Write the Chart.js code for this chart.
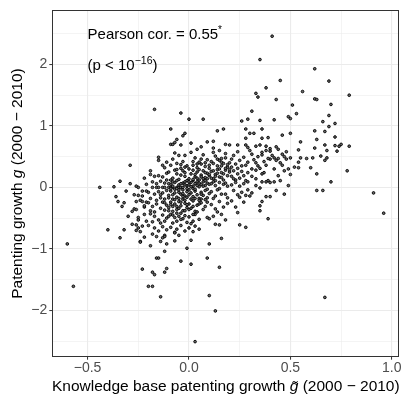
<!DOCTYPE html>
<html><head><meta charset="utf-8">
<script src="https://cdn.jsdelivr.net/npm/chart.js@4.4.1/dist/chart.umd.min.js"></script>
<style>html,body{margin:0;padding:0;background:#fff}#wrap{width:404px;height:395px}</style>
</head><body><div id="wrap"><canvas id="c" width="404" height="395"></canvas></div>
<script>
// ---- axis setup ----
const xMajorTicks = [-0.5, 0, 0.5, 1];
const xMinorTicks = [-0.25, 0.25, 0.75];
const yMajorTicks = [-2, -1, 0, 1, 2];
const yMinorTicks = [-2.5, -1.5, -0.5, 0.5, 1.5, 2.5];
const xTickLabels = ['\u22120.5', '0.0', '0.5', '1.0'];
const yTickLabels = ['\u22122', '\u22121', '0', '1', '2'];
const xRange = [-0.674, 1.037];
const yRange = [-2.755, 2.88];

// ---- data: [knowledge base growth g~, patenting growth g] ----
const upperRight = [
[0.41,2.46],[0.35,2.08],[0.62,1.93],[0.45,1.74],[0.69,1.73],[0.38,1.62],[0.56,1.56],[0.33,1.53],[0.34,1.47],[0.43,1.43],
[0.62,1.44],[0.63,1.43],[0.79,1.50],[0.51,1.34],[0.70,1.35],[0.31,1.24],[0.53,1.20],[0.69,1.17],[0.49,1.15],[0.50,1.12],
[0.29,1.11],[0.26,1.08],[0.35,1.09],[0.42,1.10],[0.66,1.07],[0.72,1.04],[0.69,0.99],[0.62,0.92],[0.67,0.91],[0.28,0.95],
[0.36,0.95],[0.30,0.88],[0.32,0.88],[0.46,0.85],[0.50,0.88],[0.39,0.81],[0.36,0.80],[0.28,0.80],[0.55,0.74],[0.63,0.78],
[0.72,0.82],[0.72,0.68],[0.79,0.67],[0.75,0.70],[0.74,0.67],[0.67,0.69],[0.62,0.64],[0.68,0.60],[0.73,0.59],[0.61,0.48],
[0.65,0.51],[0.68,0.48],[0.67,0.44],[0.78,0.27],[0.70,0.09],[0.63,0.22],[0.63,-0.05],[0.66,-0.05],[0.91,-0.09],[0.96,-0.42],
[0.67,-1.79],[0.54,0.41],[0.52,0.33],[0.54,0.32],[0.49,0.03],[0.47,-0.11],[0.43,-0.05]
];
const midRight = [
[0.50,0.48],[0.48,0.46],[0.46,0.54],[0.48,0.58],[0.44,0.62],[0.43,0.66],[0.40,0.46],[0.42,0.48],[0.44,0.47],[0.47,0.50],
[0.40,0.63],[0.40,0.59],[0.38,0.67],[0.38,0.60],[0.36,0.57],[0.36,0.53],[0.35,0.69],[0.33,0.67],[0.31,0.54],[0.34,0.35],
[0.33,0.28],[0.35,0.31],[0.37,0.24],[0.39,0.11],[0.40,0.08],[0.36,0.09],[0.38,0.09],[0.42,0.09],[0.45,0.11],[0.40,-0.15],
[0.38,-0.15],[0.36,-0.23],[0.35,-0.30],[0.35,-0.38],[0.39,-0.51],[0.32,0.45],[0.33,0.40],[0.31,0.30],[0.34,0.50],[0.37,0.42],
[0.39,0.47],[0.41,0.52],[0.43,0.44],[0.45,0.40],[0.46,0.36],[0.38,0.36],[0.42,0.30],[0.31,0.18],[0.33,0.14],[0.36,0.22],
[0.44,0.19],[0.47,0.27],[0.50,0.21],[0.33,0.03],[0.35,-0.01],[0.60,0.32],[0.49,0.30],[0.55,0.48],[0.58,0.47],[0.54,0.61]
];
const tails = [
[-0.60,-0.92],[-0.57,-1.61],[-0.17,1.27],[-0.04,1.21],[0.00,1.11],[0.07,1.11],[-0.23,-1.33],[-0.20,-1.61],[-0.18,-1.61],[-0.18,-1.38],
[-0.17,-1.42],[-0.16,-1.15],[-0.15,-1.15],[-0.14,-1.78],[-0.12,-1.04],[-0.12,-1.38],[-0.11,-1.32],[-0.04,-1.20],[-0.01,-0.99],[0.01,-1.25],
[0.09,-1.15],[0.10,-1.76],[0.13,-2.01],[0.15,-1.30],[0.03,-2.51],[0.10,-0.92],[0.01,-0.86],[0.16,-0.83]
];
const leftEdge = [
[-0.44,0.00],[-0.37,0.01],[-0.34,0.10],[-0.29,0.06],[-0.29,0.36],[-0.36,-0.15],[-0.35,-0.23],[-0.32,-0.25],[-0.33,-0.31],[-0.30,-0.47],
[-0.34,-0.82],[-0.32,-0.69],[-0.40,-0.69],[-0.31,-0.06],[-0.27,-0.12],[-0.26,0.02],[-0.27,-0.35],[-0.26,-0.36],[-0.26,-0.23],[-0.28,-0.60],
[-0.26,-0.61],[-0.25,-0.66],[-0.26,-0.70],[-0.24,-0.88],[-0.24,-0.89],[-0.22,-0.81],[-0.23,-0.63],[-0.28,-0.39],[-0.25,-0.13],[-0.23,-0.06],
[-0.25,-0.49],[-0.25,-0.53],[-0.24,-0.72],[-0.25,0.00],[-0.24,-0.21],[-0.23,-0.23],[-0.22,-0.32],[-0.22,-0.44],[-0.21,-0.24],[-0.23,-0.14],
[-0.21,-0.06],[-0.21,-0.55],[-0.22,-0.30],[-0.21,0.05]
];
const coreA = [
[-0.15,0.49],[-0.15,0.44],[-0.19,0.27],[-0.12,0.32],[-0.11,0.41],[-0.13,0.36],
[-0.22,0.15],[-0.17,0.18],[-0.15,0.19],[-0.13,0.17],[-0.18,0.09],[-0.16,0.06],[-0.14,0.10],[-0.12,0.07],[-0.19,0.21],[-0.11,0.23],
[-0.18,0.00],[-0.16,0.00],[-0.15,0.00],[-0.13,0.00],[-0.12,0.00],[-0.10,0.00],[-0.09,0.00],[-0.08,0.00],[-0.06,0.00],[-0.05,0.00],[-0.04,0.00],[-0.03,0.00],
[-0.20,-0.08],[-0.17,-0.11],[-0.15,-0.07],[-0.13,-0.09],[-0.11,-0.05],[-0.19,-0.18],[-0.16,-0.21],[-0.14,-0.17],[-0.12,-0.19],[-0.10,-0.13],
[-0.20,-0.25],[-0.18,-0.31],[-0.16,-0.27],[-0.14,-0.34],[-0.13,-0.24],[-0.11,-0.29],[-0.19,-0.38],[-0.17,-0.40],[-0.12,-0.37],[-0.10,-0.33],
[-0.19,-0.43],[-0.17,-0.47],[-0.15,-0.53],[-0.13,-0.45],[-0.11,-0.50],[-0.18,-0.56],[-0.14,-0.58],[-0.12,-0.55],[-0.10,-0.47],
[-0.20,-0.62],[-0.17,-0.66],[-0.15,-0.71],[-0.13,-0.64],[-0.11,-0.69],[-0.18,-0.76],[-0.12,-0.78],[-0.16,-0.80],
[-0.19,-0.95],[-0.12,-0.80],[-0.13,-0.82],[-0.14,-0.88],[-0.11,-0.92]
];
const coreB = [
[-0.09,0.95],[-0.03,0.84],[-0.02,0.88],[-0.09,0.70],[-0.08,0.70],[-0.04,0.69],[-0.07,0.73],[-0.06,0.78],
[-0.08,0.46],[-0.05,0.52],[-0.02,0.52],[-0.09,0.36],[-0.06,0.39],[-0.03,0.42],[-0.01,0.35],[-0.07,0.56],[-0.04,0.31],
[-0.10,0.25],[-0.08,0.15],[-0.06,0.22],[-0.05,0.13],[-0.03,0.27],[-0.02,0.18],[-0.01,0.11],[-0.09,0.12],[-0.07,0.28],[-0.04,0.20],[-0.02,0.24],
[-0.09,0.05],[-0.07,0.08],[-0.05,0.04],[-0.03,0.07],[-0.01,0.03],[-0.08,0.02],[-0.02,0.09],
[-0.09,-0.06],[-0.08,-0.12],[-0.07,-0.03],[-0.06,-0.16],[-0.05,-0.08],[-0.04,-0.11],[-0.03,-0.04],[-0.02,-0.14],[-0.01,-0.07],[-0.08,-0.19],[-0.05,-0.18],[-0.03,-0.19],[-0.01,-0.16],[-0.06,-0.02],
[-0.09,-0.24],[-0.08,-0.31],[-0.07,-0.27],[-0.06,-0.36],[-0.05,-0.23],[-0.04,-0.30],[-0.03,-0.38],[-0.02,-0.26],[-0.01,-0.33],[-0.08,-0.39],[-0.05,-0.34],[-0.02,-0.21],
[-0.09,-0.44],[-0.07,-0.49],[-0.06,-0.55],[-0.04,-0.42],[-0.03,-0.51],[-0.02,-0.46],[-0.01,-0.57],[-0.08,-0.58],[-0.05,-0.47],
[-0.09,-0.65],[-0.07,-0.73],[-0.06,-0.68],[-0.04,-0.62],[-0.02,-0.71],[-0.07,-0.74],[-0.05,-0.78],[-0.07,-0.87]
];
const coreC = [
[0.01,0.72],[0.06,0.66],[0.09,0.74],[0.04,0.62],
[0.01,0.57],[0.03,0.48],[0.05,0.41],[0.07,0.53],[0.09,0.45],[0.02,0.36],[0.04,0.32],[0.06,0.38],[0.08,0.34],[0.10,0.31],
[0.00,0.14],[0.01,0.22],[0.02,0.28],[0.03,0.17],[0.04,0.25],[0.05,0.12],[0.06,0.20],[0.07,0.27],[0.08,0.16],[0.09,0.23],[0.10,0.19],[0.02,0.11],[0.05,0.29],[0.07,0.14],[0.08,0.24],[0.03,0.21],
[0.00,0.04],[0.01,0.08],[0.02,0.02],[0.03,0.06],[0.04,0.09],[0.05,0.01],[0.06,0.05],[0.07,0.09],[0.08,0.03],[0.09,0.07],[0.10,0.05],[0.04,0.03],
[0.00,-0.04],[0.01,-0.09],[0.02,-0.15],[0.03,-0.06],[0.04,-0.12],[0.05,-0.18],[0.06,-0.08],[0.07,-0.13],[0.08,-0.05],[0.09,-0.17],[0.10,-0.10],[0.02,-0.02],[0.06,-0.19],[0.01,-0.19],
[0.00,-0.27],[0.01,-0.34],[0.02,-0.22],[0.03,-0.39],[0.04,-0.29],[0.06,-0.25],[0.07,-0.36],[0.08,-0.31],[0.05,-0.21],[0.09,-0.24],
[0.00,-0.48],[0.02,-0.55],[0.03,-0.44],[0.05,-0.52],[0.09,-0.49],[0.10,-0.51],[0.01,-0.59],
[0.00,-0.66],[0.02,-0.72],[0.03,-0.63],[0.05,-0.68]
];
const coreD = [
[0.12,0.75],[0.12,0.64],[0.15,0.60],[0.14,0.92],[0.17,0.95],[0.18,0.70],
[0.11,0.42],[0.13,0.51],[0.14,0.35],[0.16,0.47],[0.17,0.39],[0.18,0.55],[0.19,0.33],[0.12,0.57],[0.15,0.44],[0.20,0.40],
[0.11,0.26],[0.12,0.14],[0.13,0.21],[0.14,0.29],[0.15,0.17],[0.16,0.24],[0.17,0.12],[0.18,0.28],[0.19,0.19],[0.20,0.25],[0.13,0.11],[0.16,0.16],
[0.11,0.06],[0.13,0.03],[0.15,0.08],[0.17,0.05],[0.19,0.02],[0.12,0.09],[0.18,0.07],
[0.11,-0.07],[0.13,-0.14],[0.14,-0.04],[0.16,-0.11],[0.18,-0.11],[0.19,-0.17],[0.12,-0.18],[0.15,-0.02],
[0.11,-0.28],[0.13,-0.35],[0.15,-0.23],[0.17,-0.32],[0.19,-0.26],[0.14,-0.40],
[0.12,-0.47],[0.13,-0.60],[0.15,-0.61],[0.16,-0.44],[0.18,-0.53]
];
const coreE = [
[0.24,0.58],[0.20,0.69],[0.24,0.69],[0.28,0.69],[0.29,0.65],[0.30,0.60],
[0.21,0.46],[0.22,0.52],[0.23,0.38],[0.25,0.44],[0.26,0.35],[0.27,0.49],[0.29,0.41],[0.21,0.33],[0.24,0.31],[0.28,0.36],
[0.21,0.18],[0.22,0.27],[0.23,0.12],[0.24,0.22],[0.25,0.15],[0.26,0.26],[0.27,0.19],[0.28,0.11],[0.29,0.24],[0.22,0.14],
[0.21,0.04],[0.23,0.08],[0.25,0.02],[0.27,0.06],[0.29,0.09],
[0.22,-0.05],[0.24,-0.12],[0.26,-0.08],[0.28,-0.13],[0.30,-0.14],[0.29,-0.04],[0.31,-0.09],[0.25,-0.16],[0.27,-0.24],
[0.23,-0.32],[0.24,-0.41],[0.21,-0.22],
[0.25,-0.61],[0.28,-0.65]
];
const coreDense = [
[-0.11,0.12],[-0.10,0.06],[-0.09,-0.02],[-0.08,0.09],[-0.07,-0.09],[-0.06,0.11],[-0.05,-0.04],[-0.04,0.06],[-0.03,-0.10],[-0.02,0.04],
[-0.01,-0.02],[0.00,0.09],[0.01,0.01],[0.02,0.13],[0.03,-0.03],[0.04,0.15],[0.05,0.07],[0.06,0.17],[0.07,0.02],[0.08,0.11],
[0.09,0.14],[0.10,0.21],[0.11,0.15],[0.12,0.27],[0.13,0.18],[0.14,0.23],[0.15,0.30],[0.16,0.35],[0.17,0.22],[0.18,0.31],
[0.19,0.37],[0.20,0.29],[-0.10,-0.17],[-0.09,-0.28],[-0.07,-0.20],[-0.06,-0.31],[-0.04,-0.24],[-0.03,-0.15],[-0.01,-0.28],[0.00,-0.12],
[0.02,-0.31],[0.03,-0.18],[0.05,-0.27],[0.06,-0.11],[0.08,-0.20],[0.09,-0.03],[-0.06,0.29],[-0.04,0.37],[-0.02,0.33],[0.00,0.30],
[0.02,0.42],[0.04,0.38],[0.06,0.46],[0.08,0.40],[0.10,0.36],[0.12,0.39],[0.14,0.46],[0.16,0.41],[0.18,0.48],[-0.14,-0.12],
[-0.12,-0.25],[-0.10,-0.38],[-0.08,-0.45],[-0.06,-0.42],[-0.04,-0.52],[-0.02,-0.38],[0.00,-0.36],[0.02,-0.44],[0.04,-0.40]
];

const allPairs = [].concat(upperRight, midRight, tails, leftEdge, coreA, coreB, coreC, coreD, coreE, coreDense);

const FONT = "'Liberation Sans', Arial, Helvetica, sans-serif";
const isIn = (arr, v) => arr.some(a => Math.abs(a - v) < 1e-9);

function drawRuns(ctx, runs, x, y, align) {
  let w = 0;
  runs.forEach(r => { ctx.font = r.font; r.w = ctx.measureText(r.text).width; w += r.w; });
  let cx = align === 'center' ? x - w / 2 : x;
  runs.forEach(r => { ctx.font = r.font; ctx.fillText(r.text, cx, y - (r.dy || 0)); cx += r.w; });
}

const decorPlugin = {
  id: 'decor',
  afterDraw(chart) {
    const { ctx, chartArea: a, scales } = chart;
    const xs = scales.x, ys = scales.y;
    ctx.save();
    ctx.strokeStyle = '#333333';
    ctx.lineWidth = 1;
    ctx.strokeRect(Math.round(a.left) + 0.5, Math.round(a.top) + 0.5,
                   Math.round(a.right) - Math.round(a.left) - 1, Math.round(a.bottom) - Math.round(a.top) - 1);
    ctx.fillStyle = '#000';
    ctx.textAlign = 'left';
    ctx.textBaseline = 'alphabetic';
    const N = '15.5px ' + FONT, I = 'italic 15.5px ' + FONT;
    const A = '15px ' + FONT, S = '10.5px ' + FONT;
    drawRuns(ctx, [
      { text: 'Knowledge base patenting growth ', font: N },
      { text: 'g\u0303', font: I },
      { text: ' (2000 \u2212 2010)', font: N }
    ], (a.left + a.right) / 2, 391, 'center');
    ctx.save();
    ctx.translate(21.5, (a.top + a.bottom) / 2);
    ctx.rotate(-Math.PI / 2);
    drawRuns(ctx, [
      { text: 'Patenting growth ', font: N },
      { text: 'g', font: I },
      { text: ' (2000 \u2212 2010)', font: N }
    ], 0, 0, 'center');
    ctx.restore();
    const ax = xs.getPixelForValue(-0.5);
    drawRuns(ctx, [
      { text: 'Pearson cor. = 0.55', font: A },
      { text: '*', font: '10px ' + FONT, dy: 6.5 }
    ], ax, ys.getPixelForValue(2.5) + 5.5, 'left');
    drawRuns(ctx, [
      { text: '(p < 10', font: A },
      { text: '\u221216', font: S, dy: 5.5 },
      { text: ')', font: A }
    ], ax, ys.getPixelForValue(2) + 5.5, 'left');
    ctx.restore();
  }
};

const gridOpts = (major) => ({
  color: '#EBEBEB',
  lineWidth: (c) => (c.tick && isIn(major, c.tick.value)) ? 1.1 : 0.55,
  tickColor: (c) => (c.tick && isIn(major, c.tick.value)) ? '#333333' : 'rgba(0,0,0,0)',
  tickLength: 3,
  tickWidth: 1,
  drawTicks: true
});

new Chart(document.getElementById('c'), {
  type: 'scatter',
  data: {
    datasets: [{
      data: allPairs.map(([x, y]) => ({ x, y })),
      pointRadius: 1.35,
      pointBorderWidth: 0.9,
      borderColor: '#000000',
      backgroundColor: '#6a6a6a',
      pointHoverRadius: 1.35
    }]
  },
  options: {
    responsive: false,
    animation: false,
    devicePixelRatio: 1,
    layout: { padding: { left: 0, right: 4.7, top: 6, bottom: 0 } },
    plugins: { legend: { display: false }, tooltip: { enabled: false } },
    scales: {
      x: {
        type: 'linear', min: xRange[0], max: xRange[1],
        afterBuildTicks: (s) => { s.ticks = xMajorTicks.concat(xMinorTicks).sort((p, q) => p - q).map(v => ({ value: v })); },
        afterFit: (s) => { s.height = 38.3; },
        grid: gridOpts(xMajorTicks),
        border: { display: false },
        ticks: {
          autoSkip: false, maxRotation: 0, padding: 0, color: '#4D4D4D',
          font: { family: FONT, size: 14 },
          callback: (v) => { const i = xMajorTicks.findIndex(t => Math.abs(t - v) < 1e-9); return i >= 0 ? xTickLabels[i] : ''; }
        }
      },
      y: {
        type: 'linear', min: yRange[0], max: yRange[1],
        afterBuildTicks: (s) => { s.ticks = yMajorTicks.concat(yMinorTicks).sort((p, q) => p - q).map(v => ({ value: v })); },
        afterFit: (s) => { s.width = 52.3; },
        grid: gridOpts(yMajorTicks),
        border: { display: false },
        ticks: {
          autoSkip: false, padding: 2, color: '#4D4D4D',
          font: { family: FONT, size: 14 },
          callback: (v) => { const i = yMajorTicks.findIndex(t => Math.abs(t - v) < 1e-9); return i >= 0 ? yTickLabels[i] : ''; }
        }
      }
    }
  },
  plugins: [decorPlugin]
});
</script>
</body></html>
